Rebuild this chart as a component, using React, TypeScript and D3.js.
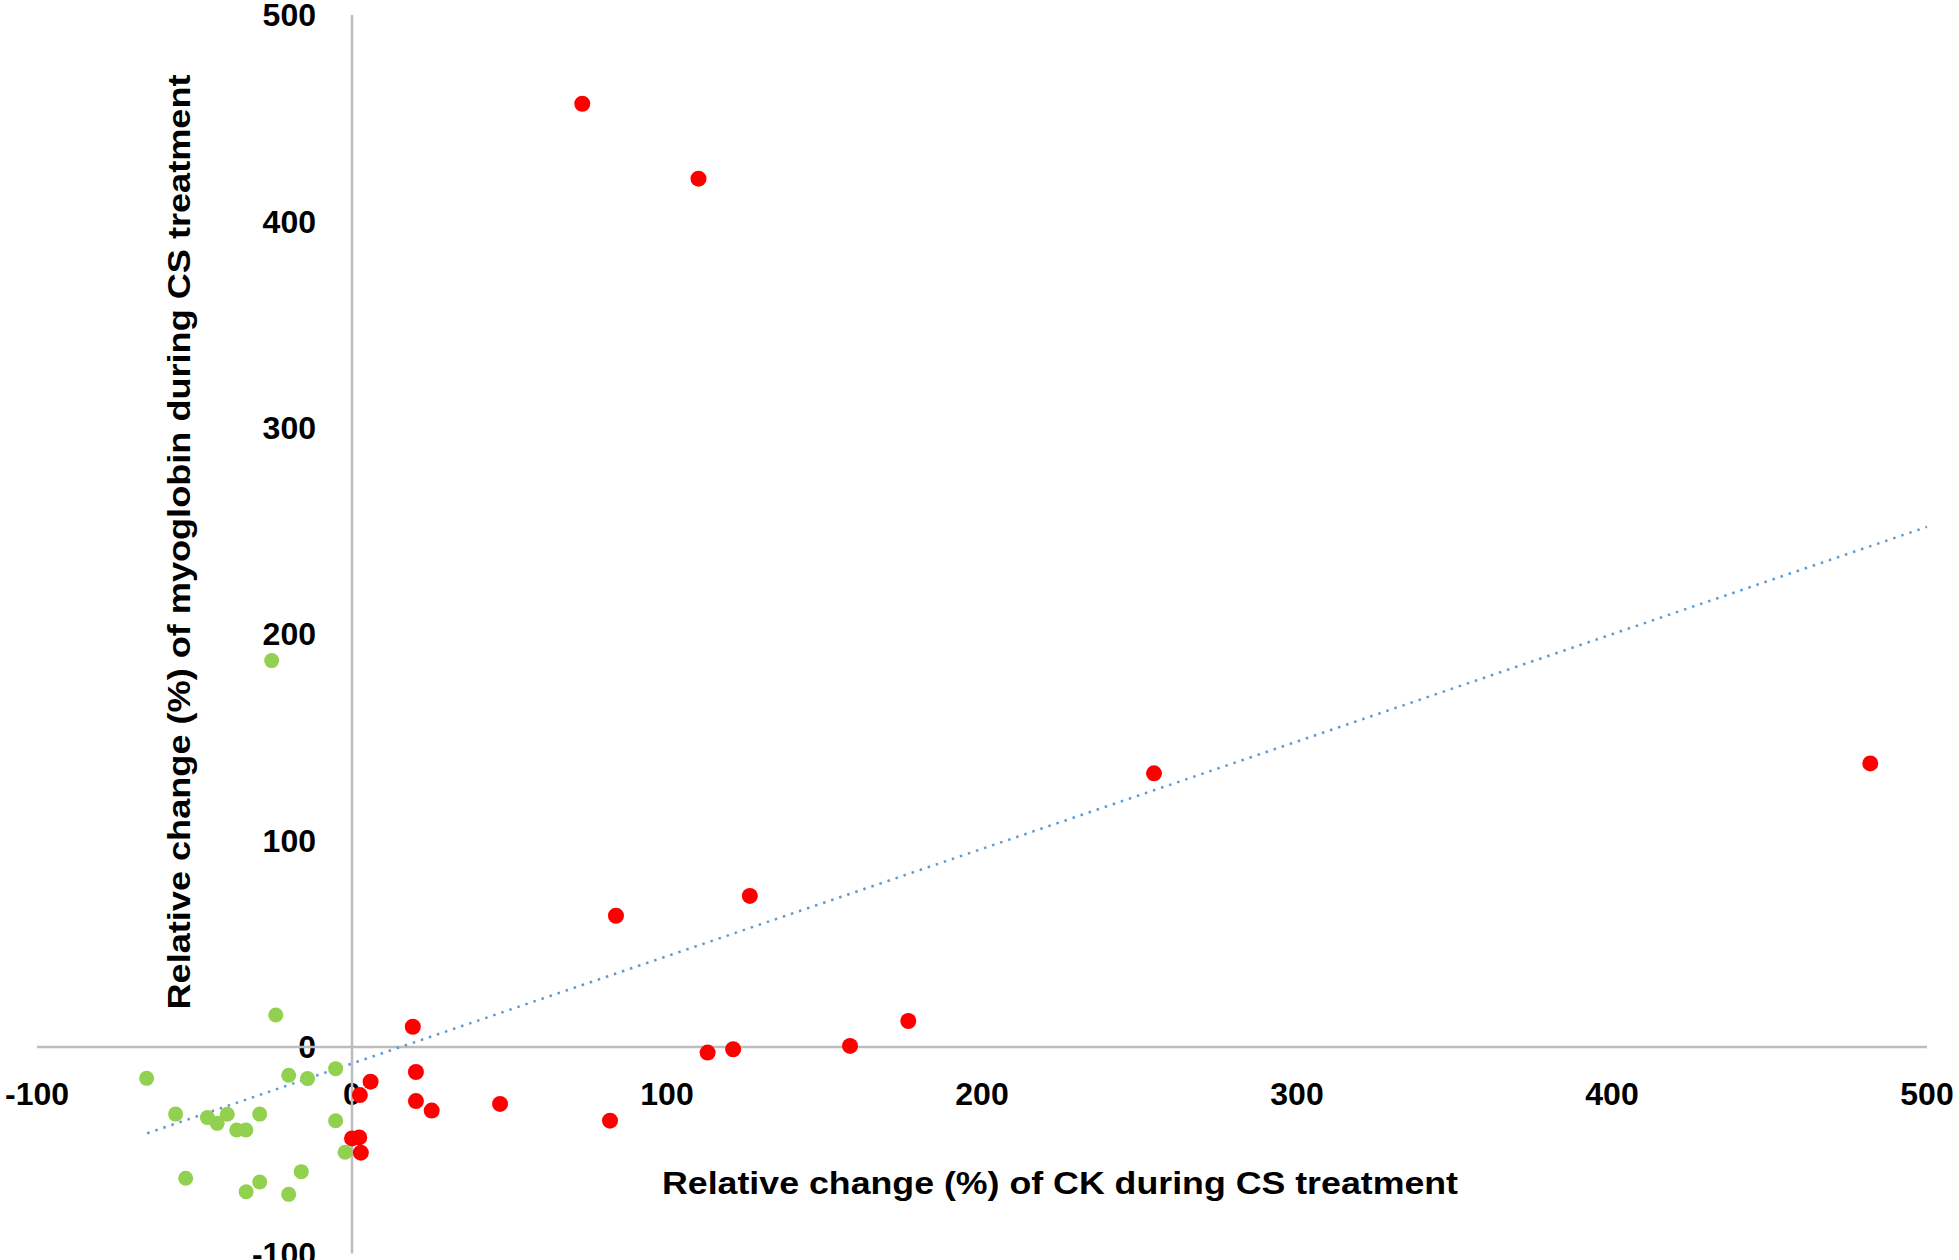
import * as d3 from 'd3';

// CK change (x) vs myoglobin change (y), percent
const redX = [73.1, 110, 254.6, 482, 126.3, 83.8, 19.3, 176.6, 158.1, 112.9, 121, 20.3, 5.9, 2.5, 20.3, 25.3, 47, 81.9, 0, 2.3, 2.8];
const redY = [457, 420.7, 132.6, 137.4, 73.2, 63.6, 9.8, 12.6, 0.5, -2.7, -1.1, -12.1, -16.8, -23.3, -26.2, -30.8, -27.6, -35.7, -44.3, -43.8, -51.2];

const greenX = [-25.5, -24.2, -65.2, -20.1, -14.1, -5.2, -56, -45.9, -42.8, -39.6, -36.6, -33.7, -29.3, -5.2, -2.2, -52.8, -16.1, -29.3, -33.6, -20.1];
const greenY = [187.2, 15.5, -15.2, -13.7, -15.3, -10.5, -32.5, -34.2, -37, -32.6, -40.2, -40.2, -32.5, -35.7, -51, -63.6, -60.4, -65.4, -70.1, -71.4];

// linear trendline end points
const trendX = [-65, 500];
const trendY = [-41.8, 252];

const xTicks = [-100, 0, 100, 200, 300, 400, 500];
const yTicks = [-100, 0, 100, 200, 300, 400, 500];

const xTitle = 'Relative change (%) of CK during CS treatment';
const yTitle = 'Relative change (%) of myoglobin during CS treatment';

const W = 1959;
const H = 1260;
const FONT = '"Liberation Sans", Arial, sans-serif';

export default function App() {
  const x = d3.scaleLinear().domain([-100, 500]).range([37, 1927]);
  const y = d3.scaleLinear().domain([-100, 500]).range([1253.4, 15]);

  const trend = d3.line<number>()
    .x(d => x(trendX[d]))
    .y(d => y(trendY[d]));

  return (
    <svg
      width={W}
      height={H}
      style={{ position: 'absolute', left: 0, top: 0, background: '#fff' }}
      fontFamily={FONT}
      fontWeight="bold"
    >
      {/* tick labels */}
      {xTicks.map(t => (
        <text key={'xt' + t} x={x(t)} y={1105} fontSize={32} textAnchor="middle" fill="#000">
          {t}
        </text>
      ))}
      {yTicks.map(t => (
        <text key={'yt' + t} x={316} y={y(t)} dy="0.35em" fontSize={32} textAnchor="end" fill="#000">
          {t}
        </text>
      ))}

      {/* axes crossing at zero */}
      <line x1={x(-100)} x2={x(500)} y1={y(0)} y2={y(0)} stroke="#bdbdbd" strokeWidth={2.5} />
      <line x1={x(0)} x2={x(0)} y1={y(500)} y2={y(-100)} stroke="#bdbdbd" strokeWidth={2.5} />

      {/* axis titles */}
      <text x={1060} y={1194} fontSize={32} textAnchor="middle" textLength={796} lengthAdjust="spacingAndGlyphs">
        {xTitle}
      </text>
      <text
        transform="translate(190,542) rotate(-90)"
        fontSize={32}
        textAnchor="middle"
        textLength={935}
        lengthAdjust="spacingAndGlyphs"
      >
        {yTitle}
      </text>

      {/* trendline */}
      <path
        d={trend([0, 1]) || ''}
        fill="none"
        stroke="#5b9bd5"
        strokeWidth={2.5}
        strokeDasharray="2.5,6"
      />

      {greenX.map((v, i) => (
        <circle key={'g' + i} cx={x(v)} cy={y(greenY[i])} r={7.5} fill="#92d050" />
      ))}
      {redX.map((v, i) => (
        <circle key={'r' + i} cx={x(v)} cy={y(redY[i])} r={8} fill="#ff0000" />
      ))}
    </svg>
  );
}
